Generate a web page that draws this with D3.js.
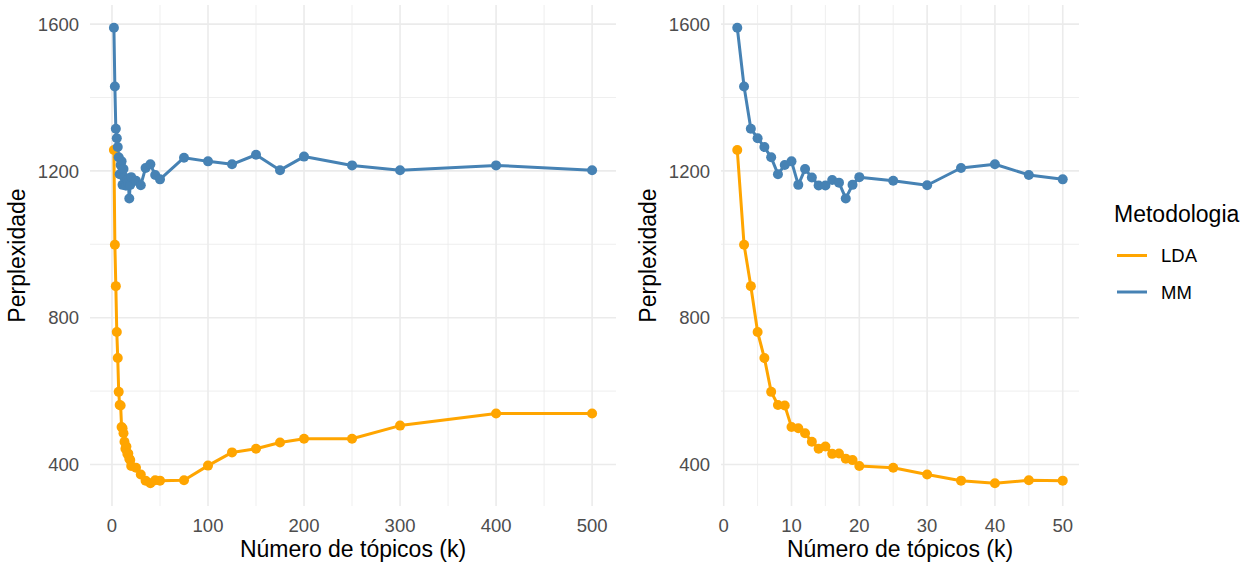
<!DOCTYPE html>
<html>
<head>
<meta charset="utf-8">
<script src="https://cdn.jsdelivr.net/npm/d3@7"></script>
<style>
  body { margin: 0; background: #fff; }
  text { font-family: "Liberation Sans", Arial, sans-serif; }
</style>
</head>
<body>
<svg id="chart" width="1250" height="566"></svg>
<script>
// number of topics (k)
var kValues = [2, 3, 4, 5, 6, 7, 8, 9, 10, 11, 12, 13, 14, 15, 16, 17, 18, 19, 20,
               25, 30, 35, 40, 45, 50, 75, 100, 125, 150, 175, 200, 250, 300, 400, 500];

var ldaValues = [1257, 999, 886, 761, 690, 598, 562, 561, 502, 499, 485, 462, 443, 449, 429, 430, 416, 412, 396,
                 391, 373, 356, 349, 357, 356, 357, 397, 433, 443, 460, 470, 470, 506, 539, 539];

var mmValues = [1590, 1430, 1315, 1289, 1265, 1237, 1191, 1216, 1226, 1162, 1205, 1182, 1160, 1160, 1175, 1168, 1125, 1162, 1183,
                1173, 1161, 1208, 1218, 1189, 1177, 1236, 1226, 1218, 1244, 1202, 1239, 1215, 1202, 1215, 1202];

var methods = ["LDA", "MM"];
var colors = ["#FFA500", "#4682B4"];

var yTicks = [400, 800, 1200, 1600];
var yMinor = [600, 1000, 1400];
var leftTicks = [0, 100, 200, 300, 400, 500];
var leftMinor = [50, 150, 250, 350, 450];
var rightTicks = [0, 10, 20, 30, 40, 50];
var rightMinor = [5, 15, 25, 35, 45];

var svg = d3.select("#chart");

var series = methods.map(function(m, i) {
    var vals = i === 0 ? ldaValues : mmValues;
    return { name: m, color: colors[i], points: kValues.map(function(k, j) { return { k: k, v: vals[j] }; }) };
});

// shared y scale (ggplot-like 5% expansion)
var allVals = ldaValues.concat(mmValues);
var yMin = d3.min(allVals), yMax = d3.max(allVals);
var yPad = (yMax - yMin) * 0.05;
var plotTop = 5, plotBottom = 506;
var y = d3.scaleLinear().domain([yMin - yPad, yMax + yPad]).range([plotBottom, plotTop]);

function drawPanel(x0, x1, maxK, ticks, minor) {
    var pts = function(s) { return s.points.filter(function(p) { return p.k <= maxK; }); };
    var kMin = d3.min(kValues), kPad = (maxK - kMin) * 0.05;
    var x = d3.scaleLinear().domain([kMin - kPad, maxK + kPad]).range([x0, x1]);
    var g = svg.append("g");

    // grid
    g.selectAll(".ymin").data(yMinor).enter().append("line")
        .attr("x1", x0).attr("x2", x1).attr("y1", y).attr("y2", y)
        .attr("stroke", "#EBEBEB").attr("stroke-width", 0.8);
    g.selectAll(".xmin").data(minor).enter().append("line")
        .attr("y1", plotTop).attr("y2", plotBottom).attr("x1", x).attr("x2", x)
        .attr("stroke", "#EBEBEB").attr("stroke-width", 0.8);
    g.selectAll(".ymaj").data(yTicks).enter().append("line")
        .attr("x1", x0).attr("x2", x1).attr("y1", y).attr("y2", y)
        .attr("stroke", "#EBEBEB").attr("stroke-width", 1.6);
    g.selectAll(".xmaj").data(ticks).enter().append("line")
        .attr("y1", plotTop).attr("y2", plotBottom).attr("x1", x).attr("x2", x)
        .attr("stroke", "#EBEBEB").attr("stroke-width", 1.6);

    // tick labels
    g.selectAll(".ylab").data(yTicks).enter().append("text")
        .attr("x", x0 - 11).attr("y", function(d) { return y(d) + 6.7; })
        .attr("text-anchor", "end").attr("font-size", 18.5).attr("fill", "#4D4D4D")
        .text(function(d) { return d; });
    g.selectAll(".xlab").data(ticks).enter().append("text")
        .attr("x", x).attr("y", 531.5)
        .attr("text-anchor", "middle").attr("font-size", 18.5).attr("fill", "#4D4D4D")
        .text(function(d) { return d; });

    // axis titles
    g.append("text")
        .attr("x", (x0 + x1) / 2).attr("y", 556.5)
        .attr("text-anchor", "middle").attr("font-size", 23).attr("fill", "#000")
        .text("Número de tópicos (k)");
    g.append("text")
        .attr("transform", "translate(" + (x0 - 65) + "," + ((plotTop + plotBottom) / 2) + ") rotate(-90)")
        .attr("text-anchor", "middle").attr("font-size", 23).attr("fill", "#000")
        .text("Perplexidade");

    var line = d3.line().x(function(d) { return x(d.k); }).y(function(d) { return y(d.v); });

    series.forEach(function(s) {
        g.append("path").datum(pts(s))
            .attr("d", line).attr("fill", "none")
            .attr("stroke", s.color).attr("stroke-width", 3)
            .attr("stroke-linejoin", "round");
    });
    series.forEach(function(s) {
        g.selectAll(null).data(pts(s)).enter().append("circle")
            .attr("cx", function(d) { return x(d.k); })
            .attr("cy", function(d) { return y(d.v); })
            .attr("r", 5).attr("fill", s.color);
    });
}

drawPanel(90, 616, 500, leftTicks, leftMinor);
drawPanel(721, 1079, 50, rightTicks, rightMinor);

// legend
var legend = svg.append("g");
legend.append("text").attr("x", 1114).attr("y", 222)
    .attr("font-size", 23).attr("fill", "#000").text("Metodologia");
series.forEach(function(s, i) {
    var cy = 255.5 + i * 36.5;
    legend.append("line").attr("x1", 1117).attr("x2", 1147).attr("y1", cy).attr("y2", cy)
        .attr("stroke", s.color).attr("stroke-width", 3);
    legend.append("text").attr("x", 1161).attr("y", cy + 6.5)
        .attr("font-size", 18.5).attr("fill", "#000").text(s.name);
});
</script>
</body>
</html>
